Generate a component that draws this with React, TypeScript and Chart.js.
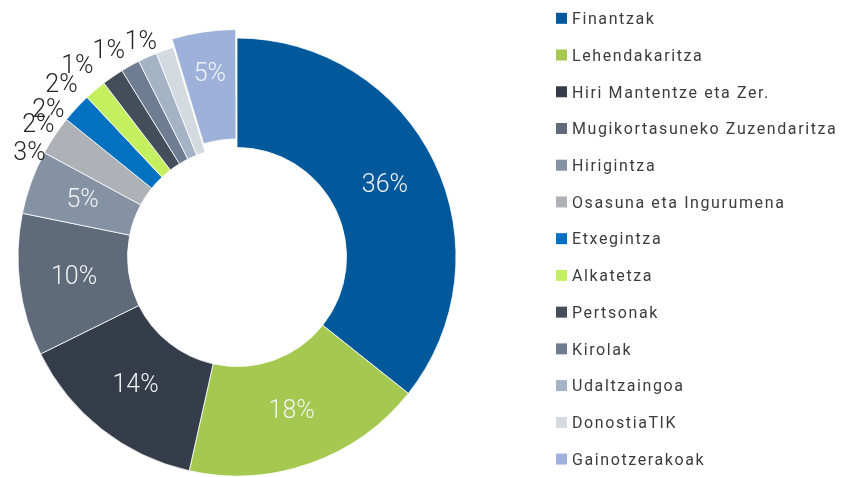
import React, { useEffect, useRef } from "react";
import { Chart, registerables } from "chart.js";

Chart.register(...registerables);

// ---- data ----
const categories = [
  "Finantzak",
  "Lehendakaritza",
  "Hiri Mantentze eta Zer.",
  "Mugikortasuneko Zuzendaritza",
  "Hirigintza",
  "Osasuna eta Ingurumena",
  "Etxegintza",
  "Alkatetza",
  "Pertsonak",
  "Kirolak",
  "Udaltzaingoa",
  "DonostiaTIK",
  "Gainotzerakoak",
];

const shares = [35.7, 17.8, 14.2, 10.5, 4.7, 2.9, 2.2, 1.6, 1.6, 1.4, 1.4, 1.3, 4.7];

// ---- styles ----
const sliceColors = [
  "#01599C",
  "#A5C850",
  "#363D4A",
  "#5F6A7A",
  "#8592A3",
  "#AEB1B5",
  "#0271C1",
  "#C4F05F",
  "#444E5B",
  "#6E7D91",
  "#A4B3C6",
  "#D5D9E0",
  "#9DB1DA",
];
const sliceOffsets = [0, 0, 0, 0, 0, 0, 0, 0, 0, 0, 0, 0, 20];

// placement tweaks for the small outside labels (degrees, pixels)
const outsideLabelShift = [-7.1, -9.4, -11.8, -11.2, -10.9, -7.9, -4.9];
const outsideLabelRadius = [232, 238, 239, 245, 248, 242, 235];

const LEGEND_X = 556;
const LEGEND_TOP = 18.3;
const LEGEND_GAP = 36.73;

const sliceLabelPlugin = {
  id: "sliceLabels",
  afterDatasetsDraw(chart: any) {
    const ctx = chart.ctx as CanvasRenderingContext2D;
    const meta = chart.getDatasetMeta(0);
    const data = chart.data.datasets[0].data as number[];
    const total = data.reduce((a, b) => a + b, 0);
    let k = 0;
    ctx.save();
    ctx.font = "300 25px Roboto";
    ctx.textAlign = "center";
    ctx.textBaseline = "middle";
    meta.data.forEach((arc: any, i: number) => {
      const p = arc.getProps(["x", "y", "startAngle", "endAngle", "innerRadius", "outerRadius"], true);
      const frac = data[i] / total;
      const txt = Math.round(frac * 100) + "%";
      const mid = (p.startAngle + p.endAngle) / 2;
      const off = (arc.options && arc.options.offset) || 0;
      if (frac >= 0.04) {
        const r = (p.innerRadius + p.outerRadius) / 2 + off;
        ctx.fillStyle = "#F2F2F2";
        ctx.fillText(txt, p.x + Math.cos(mid) * r, p.y + Math.sin(mid) * r);
      } else {
        const a = mid + (outsideLabelShift[k] * Math.PI) / 180;
        const r = outsideLabelRadius[k];
        k++;
        ctx.fillStyle = "#262626";
        ctx.fillText(txt, p.x + Math.cos(a) * r, p.y + Math.sin(a) * r);
      }
    });
    ctx.restore();
  },
};

const legendPlugin = {
  id: "sideLegend",
  afterDraw(chart: any) {
    const ctx = chart.ctx as CanvasRenderingContext2D;
    const labels = chart.data.labels as string[];
    const colors = chart.data.datasets[0].backgroundColor as string[];
    ctx.save();
    ctx.font = "400 16px Roboto";
    (ctx as any).letterSpacing = "1.6px";
    ctx.textAlign = "left";
    ctx.textBaseline = "alphabetic";
    labels.forEach((lab, i) => {
      const cy = LEGEND_TOP + i * LEGEND_GAP;
      ctx.fillStyle = colors[i];
      ctx.fillRect(LEGEND_X, cy - 5.5, 11, 11);
      ctx.fillStyle = "#3C3C3C";
      ctx.fillText(lab, LEGEND_X + 16, cy + 5.8);
    });
    ctx.restore();
  },
};

export default function App() {
  const ref = useRef<HTMLCanvasElement | null>(null);
  useEffect(() => {
    if (!ref.current) return;
    const chart = new Chart(ref.current, {
      type: "doughnut",
      data: {
        labels: categories,
        datasets: [
          {
            data: shares,
            backgroundColor: sliceColors,
            borderColor: "#FFFFFF",
            borderWidth: 0.8,
            offset: sliceOffsets,
            hoverOffset: 0,
          },
        ],
      },
      options: {
        responsive: false,
        animation: false,
        devicePixelRatio: 1,
        radius: 219,
        cutout: "50%",
        layout: { padding: { left: 17, right: 389, top: 37, bottom: 0 } },
        plugins: {
          legend: { display: false },
          tooltip: { enabled: false },
        },
        events: [],
      },
      plugins: [sliceLabelPlugin, legendPlugin],
    });
    return () => chart.destroy();
  }, []);
  return (
    <div style={{ position: "fixed", left: 0, top: 0, width: 846, height: 477, background: "#FFFFFF" }}>
      <canvas ref={ref} width={846} height={477} style={{ display: "block" }} />
    </div>
  );
}
